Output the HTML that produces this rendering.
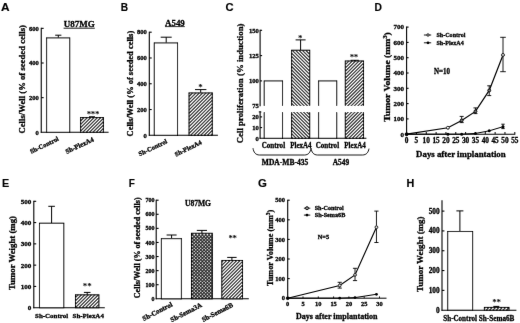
<!DOCTYPE html>
<html><head><meta charset="utf-8"><title>Figure</title>
<style>
html,body{margin:0;padding:0;background:#fff;}
body{width:520px;height:323px;overflow:hidden;font-family:"Liberation Serif",serif;}
svg{display:block;}
.sf{font-family:"Liberation Serif",serif;fill:#000;stroke:#000;stroke-width:0.3px;}
.ss{font-family:"Liberation Sans",sans-serif;fill:#000;stroke:#000;stroke-width:0.15px;}
</style></head>
<body>
<svg width="520" height="323" viewBox="0 0 520 323">
<rect width="520" height="323" fill="#fff"/>
<g filter="url(#soft)">
<defs>
<filter id="soft" x="0" y="0" width="520" height="323" filterUnits="userSpaceOnUse"><feConvolveMatrix order="3" kernelMatrix="0.0028 0.0470 0.0028 0.0470 0.8008 0.0470 0.0028 0.0470 0.0028" divisor="1" edgeMode="duplicate" preserveAlpha="false"/></filter>
<pattern id="hF" patternUnits="userSpaceOnUse" width="2.33" height="2.33" patternTransform="rotate(-45)">
<rect width="2.33" height="2.33" fill="#fff"/><line x1="0" y1="1.165" x2="2.33" y2="1.165" stroke="#000" stroke-width="0.85"/></pattern>
<pattern id="hB" patternUnits="userSpaceOnUse" width="2.33" height="2.33" patternTransform="rotate(45)">
<rect width="2.33" height="2.33" fill="#fff"/><line x1="0" y1="1.165" x2="2.33" y2="1.165" stroke="#000" stroke-width="0.85"/></pattern>
<pattern id="hX" patternUnits="userSpaceOnUse" width="2.3" height="2.3" patternTransform="rotate(45)">
<rect width="2.3" height="2.3" fill="#fff"/><line x1="0" y1="1.15" x2="2.3" y2="1.15" stroke="#000" stroke-width="0.8"/><line x1="1.15" y1="0" x2="1.15" y2="2.3" stroke="#000" stroke-width="0.8"/></pattern>
</defs>
<text class="ss" font-size="10.8" font-weight="bold" transform="translate(1.10 10.80) scale(1.1 1)" x="0" y="0">A</text>
<text class="sf" x="79.20" y="26.80" font-size="9" text-anchor="middle" font-weight="bold" textLength="31.00" lengthAdjust="spacingAndGlyphs" >U87MG</text>
<line x1="63.60" y1="28.20" x2="94.80" y2="28.20" stroke="#000" stroke-width="0.9" />
<line x1="41.25" y1="27.85" x2="41.25" y2="132.80" stroke="#000" stroke-width="1.1" />
<line x1="41.25" y1="28.35" x2="43.65" y2="28.35" stroke="#000" stroke-width="1.1" />
<text class="sf" x="38.85" y="30.59" font-size="6.6" text-anchor="end" font-weight="bold" >600</text>
<line x1="41.25" y1="63.00" x2="43.65" y2="63.00" stroke="#000" stroke-width="1.1" />
<text class="sf" x="38.85" y="65.24" font-size="6.6" text-anchor="end" font-weight="bold" >400</text>
<line x1="41.25" y1="97.65" x2="43.65" y2="97.65" stroke="#000" stroke-width="1.1" />
<text class="sf" x="38.85" y="99.89" font-size="6.6" text-anchor="end" font-weight="bold" >200</text>
<text class="sf" x="38.85" y="134.54" font-size="6.6" text-anchor="end" font-weight="bold" >0</text>
<line x1="40.75" y1="132.30" x2="108.60" y2="132.30" stroke="#000" stroke-width="1.1" />
<line x1="58.30" y1="37.88" x2="58.30" y2="35.20" stroke="#000" stroke-width="1.0" />
<line x1="55.20" y1="35.20" x2="61.40" y2="35.20" stroke="#000" stroke-width="1.0" />
<rect x="46.60" y="37.88" width="23.10" height="94.42" fill="#fff" stroke="none"/>
<rect x="46.60" y="37.88" width="23.10" height="94.42" fill="none" stroke="#000" stroke-width="1.05"/>
<line x1="92.00" y1="117.57" x2="92.00" y2="116.77" stroke="#000" stroke-width="1.0" />
<line x1="89.00" y1="116.77" x2="95.00" y2="116.77" stroke="#000" stroke-width="1.0" />
<rect x="80.60" y="117.57" width="22.80" height="14.73" fill="#fff" stroke="none"/>
<clipPath id="c1"><rect x="80.60" y="117.57" width="22.80" height="14.73"/></clipPath>
<path clip-path="url(#c1)" d="M79.60 111.92L104.40 87.12M79.60 115.28L104.40 90.48M79.60 118.64L104.40 93.84M79.60 122.00L104.40 97.20M79.60 125.36L104.40 100.56M79.60 128.72L104.40 103.92M79.60 132.08L104.40 107.28M79.60 135.44L104.40 110.64M79.60 138.80L104.40 114.00M79.60 142.16L104.40 117.36M79.60 145.52L104.40 120.72M79.60 148.88L104.40 124.08M79.60 152.24L104.40 127.44M79.60 155.60L104.40 130.80M79.60 158.96L104.40 134.16" fill="none" stroke="#000" stroke-width="1.1"/>
<rect x="80.60" y="117.57" width="22.80" height="14.73" fill="none" stroke="#000" stroke-width="1.05"/>
<text class="sf" x="89.05" y="116.85" font-size="9.0" text-anchor="middle" font-weight="bold" style="stroke-width:0">*</text>
<text class="sf" x="93.10" y="116.85" font-size="9.0" text-anchor="middle" font-weight="bold" style="stroke-width:0">*</text>
<text class="sf" x="97.15" y="116.85" font-size="9.0" text-anchor="middle" font-weight="bold" style="stroke-width:0">*</text>
<text class="sf" font-size="8.6" font-weight="bold" text-anchor="middle" transform="translate(22.00 79.30) rotate(-90)" x="0" y="2.84" textLength="108.50" lengthAdjust="spacingAndGlyphs">Cells/Well (% of seeded cells)</text>
<text class="sf" x="59.20" y="140.30" font-size="6.5" text-anchor="end" font-weight="bold" transform="rotate(-26 59.20 140.30)" >Sh-Control</text>
<text class="sf" x="94.40" y="141.00" font-size="6.8" text-anchor="end" font-weight="bold" transform="rotate(-25 94.40 141.00)" >Sh-PlexA4</text>
<text class="ss" font-size="10.8" font-weight="bold" transform="translate(120.80 10.80) scale(0.94 1)" x="0" y="0">B</text>
<text class="sf" x="174.90" y="25.60" font-size="8.6" text-anchor="middle" font-weight="bold" textLength="19.80" lengthAdjust="spacingAndGlyphs" >A549</text>
<line x1="165.00" y1="26.60" x2="184.80" y2="26.60" stroke="#000" stroke-width="0.8" />
<line x1="149.30" y1="31.70" x2="149.30" y2="135.80" stroke="#000" stroke-width="1.1" />
<line x1="149.30" y1="32.20" x2="151.70" y2="32.20" stroke="#000" stroke-width="1.1" />
<text class="sf" x="146.90" y="34.44" font-size="6.6" text-anchor="end" font-weight="bold" >800</text>
<line x1="149.30" y1="57.98" x2="151.70" y2="57.98" stroke="#000" stroke-width="1.1" />
<text class="sf" x="146.90" y="60.22" font-size="6.6" text-anchor="end" font-weight="bold" >600</text>
<line x1="149.30" y1="83.75" x2="151.70" y2="83.75" stroke="#000" stroke-width="1.1" />
<text class="sf" x="146.90" y="85.99" font-size="6.6" text-anchor="end" font-weight="bold" >400</text>
<line x1="149.30" y1="109.53" x2="151.70" y2="109.53" stroke="#000" stroke-width="1.1" />
<text class="sf" x="146.90" y="111.77" font-size="6.6" text-anchor="end" font-weight="bold" >200</text>
<text class="sf" x="146.90" y="137.54" font-size="6.6" text-anchor="end" font-weight="bold" >0</text>
<line x1="148.80" y1="135.30" x2="217.90" y2="135.30" stroke="#000" stroke-width="1.1" />
<line x1="166.20" y1="42.90" x2="166.20" y2="37.20" stroke="#000" stroke-width="1.0" />
<line x1="160.70" y1="37.20" x2="171.70" y2="37.20" stroke="#000" stroke-width="1.0" />
<rect x="154.30" y="42.90" width="23.20" height="92.40" fill="#fff" stroke="none"/>
<rect x="154.30" y="42.90" width="23.20" height="92.40" fill="none" stroke="#000" stroke-width="1.05"/>
<line x1="200.70" y1="92.90" x2="200.70" y2="89.60" stroke="#000" stroke-width="1.0" />
<line x1="195.00" y1="89.60" x2="206.40" y2="89.60" stroke="#000" stroke-width="1.0" />
<rect x="189.00" y="92.90" width="23.30" height="42.40" fill="#fff" stroke="none"/>
<clipPath id="c2"><rect x="189.00" y="92.90" width="23.30" height="42.40"/></clipPath>
<path clip-path="url(#c2)" d="M188.00 87.52L213.30 62.22M188.00 90.88L213.30 65.58M188.00 94.24L213.30 68.94M188.00 97.60L213.30 72.30M188.00 100.96L213.30 75.66M188.00 104.32L213.30 79.02M188.00 107.68L213.30 82.38M188.00 111.04L213.30 85.74M188.00 114.40L213.30 89.10M188.00 117.76L213.30 92.46M188.00 121.12L213.30 95.82M188.00 124.48L213.30 99.18M188.00 127.84L213.30 102.54M188.00 131.20L213.30 105.90M188.00 134.56L213.30 109.26M188.00 137.92L213.30 112.62M188.00 141.28L213.30 115.98M188.00 144.64L213.30 119.34M188.00 148.00L213.30 122.70M188.00 151.36L213.30 126.06M188.00 154.72L213.30 129.42M188.00 158.08L213.30 132.78M188.00 161.44L213.30 136.14" fill="none" stroke="#000" stroke-width="1.1"/>
<rect x="189.00" y="92.90" width="23.30" height="42.40" fill="none" stroke="#000" stroke-width="1.05"/>
<text class="sf" x="200.50" y="89.95" font-size="9.0" text-anchor="middle" font-weight="bold" style="stroke-width:0">*</text>
<text class="sf" font-size="8.5" font-weight="bold" text-anchor="middle" transform="translate(130.00 83.60) rotate(-90)" x="0" y="2.81" textLength="105.60" lengthAdjust="spacingAndGlyphs">Cells/Well (% of seeded cells)</text>
<text class="sf" x="167.70" y="142.80" font-size="6.5" text-anchor="end" font-weight="bold" transform="rotate(-26 167.70 142.80)" >Sh-Control</text>
<text class="sf" x="202.20" y="143.80" font-size="6.5" text-anchor="end" font-weight="bold" transform="rotate(-26 202.20 143.80)" >Sh-PlexA4</text>
<text class="ss" font-size="10.8" font-weight="bold" transform="translate(225.40 10.90) scale(1.04 1)" x="0" y="0">C</text>
<line x1="260.10" y1="29.80" x2="260.10" y2="106.30" stroke="#000" stroke-width="1.1" />
<line x1="260.10" y1="30.30" x2="262.10" y2="30.30" stroke="#000" stroke-width="1.1" />
<text class="sf" x="258.90" y="32.54" font-size="6.6" text-anchor="end" font-weight="bold" >150</text>
<line x1="260.10" y1="55.60" x2="262.10" y2="55.60" stroke="#000" stroke-width="1.1" />
<text class="sf" x="258.90" y="57.84" font-size="6.6" text-anchor="end" font-weight="bold" >125</text>
<line x1="260.10" y1="80.90" x2="262.10" y2="80.90" stroke="#000" stroke-width="1.1" />
<text class="sf" x="258.90" y="83.14" font-size="6.6" text-anchor="end" font-weight="bold" >100</text>
<text class="sf" x="258.90" y="108.24" font-size="6.6" text-anchor="end" font-weight="bold" >75</text>
<line x1="260.10" y1="111.60" x2="260.10" y2="138.80" stroke="#000" stroke-width="1.1" />
<line x1="260.10" y1="116.90" x2="262.10" y2="116.90" stroke="#000" stroke-width="1.1" />
<text class="sf" x="258.90" y="119.14" font-size="6.6" text-anchor="end" font-weight="bold" >20</text>
<line x1="260.10" y1="127.60" x2="262.10" y2="127.60" stroke="#000" stroke-width="1.1" />
<text class="sf" x="258.90" y="129.84" font-size="6.6" text-anchor="end" font-weight="bold" >10</text>
<text class="sf" x="258.90" y="140.54" font-size="6.6" text-anchor="end" font-weight="bold" >0</text>
<line x1="258.80" y1="111.90" x2="261.40" y2="111.90" stroke="#000" stroke-width="1.0" />
<line x1="259.60" y1="138.30" x2="366.40" y2="138.30" stroke="#000" stroke-width="1.1" />
<line x1="300.60" y1="50.24" x2="300.60" y2="39.90" stroke="#000" stroke-width="1.0" />
<line x1="295.60" y1="39.90" x2="305.60" y2="39.90" stroke="#000" stroke-width="1.0" />
<line x1="354.70" y1="60.96" x2="354.70" y2="60.30" stroke="#000" stroke-width="1.0" />
<line x1="350.60" y1="60.30" x2="358.80" y2="60.30" stroke="#000" stroke-width="1.0" />
<rect x="264.20" y="80.90" width="18.30" height="57.40" fill="#fff" stroke="none"/>
<rect x="264.20" y="80.90" width="18.30" height="57.40" fill="none" stroke="#000" stroke-width="1.05"/>
<rect x="291.60" y="50.24" width="18.10" height="88.06" fill="#fff" stroke="none"/>
<clipPath id="c3"><rect x="291.60" y="50.24" width="18.10" height="88.06"/></clipPath>
<path clip-path="url(#c3)" d="M290.60 142.76L310.70 162.86M290.60 139.40L310.70 159.50M290.60 136.04L310.70 156.14M290.60 132.68L310.70 152.78M290.60 129.32L310.70 149.42M290.60 125.96L310.70 146.06M290.60 122.60L310.70 142.70M290.60 119.24L310.70 139.34M290.60 115.88L310.70 135.98M290.60 112.52L310.70 132.62M290.60 109.16L310.70 129.26M290.60 105.80L310.70 125.90M290.60 102.44L310.70 122.54M290.60 99.08L310.70 119.18M290.60 95.72L310.70 115.82M290.60 92.36L310.70 112.46M290.60 89.00L310.70 109.10M290.60 85.64L310.70 105.74M290.60 82.28L310.70 102.38M290.60 78.92L310.70 99.02M290.60 75.56L310.70 95.66M290.60 72.20L310.70 92.30M290.60 68.84L310.70 88.94M290.60 65.48L310.70 85.58M290.60 62.12L310.70 82.22M290.60 58.76L310.70 78.86M290.60 55.40L310.70 75.50M290.60 52.04L310.70 72.14M290.60 48.68L310.70 68.78M290.60 45.32L310.70 65.42M290.60 41.96L310.70 62.06M290.60 38.60L310.70 58.70M290.60 35.24L310.70 55.34M290.60 31.88L310.70 51.98M290.60 28.52L310.70 48.62" fill="none" stroke="#000" stroke-width="1.1"/>
<rect x="291.60" y="50.24" width="18.10" height="88.06" fill="none" stroke="#000" stroke-width="1.05"/>
<rect x="318.60" y="80.90" width="18.10" height="57.40" fill="#fff" stroke="none"/>
<rect x="318.60" y="80.90" width="18.10" height="57.40" fill="none" stroke="#000" stroke-width="1.05"/>
<rect x="345.30" y="60.96" width="18.20" height="77.34" fill="#fff" stroke="none"/>
<clipPath id="c4"><rect x="345.30" y="60.96" width="18.20" height="77.34"/></clipPath>
<path clip-path="url(#c4)" d="M344.30 55.54L364.50 35.34M344.30 58.90L364.50 38.70M344.30 62.26L364.50 42.06M344.30 65.62L364.50 45.42M344.30 68.98L364.50 48.78M344.30 72.34L364.50 52.14M344.30 75.70L364.50 55.50M344.30 79.06L364.50 58.86M344.30 82.42L364.50 62.22M344.30 85.78L364.50 65.58M344.30 89.14L364.50 68.94M344.30 92.50L364.50 72.30M344.30 95.86L364.50 75.66M344.30 99.22L364.50 79.02M344.30 102.58L364.50 82.38M344.30 105.94L364.50 85.74M344.30 109.30L364.50 89.10M344.30 112.66L364.50 92.46M344.30 116.02L364.50 95.82M344.30 119.38L364.50 99.18M344.30 122.74L364.50 102.54M344.30 126.10L364.50 105.90M344.30 129.46L364.50 109.26M344.30 132.82L364.50 112.62M344.30 136.18L364.50 115.98M344.30 139.54L364.50 119.34M344.30 142.90L364.50 122.70M344.30 146.26L364.50 126.06M344.30 149.62L364.50 129.42M344.30 152.98L364.50 132.78M344.30 156.34L364.50 136.14M344.30 159.70L364.50 139.50" fill="none" stroke="#000" stroke-width="1.1"/>
<rect x="345.30" y="60.96" width="18.20" height="77.34" fill="none" stroke="#000" stroke-width="1.05"/>
<rect x="262.4" y="105.9" width="104" height="6.1" fill="#fff"/>
<text class="sf" x="300.30" y="40.65" font-size="9.0" text-anchor="middle" font-weight="bold" style="stroke-width:0">*</text>
<text class="sf" x="352.10" y="59.55" font-size="9.0" text-anchor="middle" font-weight="bold" style="stroke-width:0">*</text>
<text class="sf" x="356.10" y="59.55" font-size="9.0" text-anchor="middle" font-weight="bold" style="stroke-width:0">*</text>
<text class="sf" font-size="8.9" font-weight="bold" text-anchor="middle" transform="translate(240.50 83.40) rotate(-90)" x="0" y="2.94" textLength="119.80" lengthAdjust="spacingAndGlyphs">Cell proliferation (% induction)</text>
<text class="sf" x="273.40" y="147.60" font-size="7.7" text-anchor="middle" font-weight="bold" textLength="23.40" lengthAdjust="spacingAndGlyphs" >Control</text>
<text class="sf" x="300.90" y="147.60" font-size="7.7" text-anchor="middle" font-weight="bold" textLength="21.40" lengthAdjust="spacingAndGlyphs" >PlexA4</text>
<text class="sf" x="327.40" y="147.60" font-size="7.7" text-anchor="middle" font-weight="bold" textLength="23.40" lengthAdjust="spacingAndGlyphs" >Control</text>
<text class="sf" x="355.00" y="147.60" font-size="7.7" text-anchor="middle" font-weight="bold" textLength="21.40" lengthAdjust="spacingAndGlyphs" >PlexA4</text>
<path d="M253 148.2 C253.6 152.2 255.5 155 259.5 155 L304.5 155 C308.5 155 310.4 152.2 311 148.2 C311.6 152.2 313.5 155 317.5 155 L362.5 155 C366.5 155 368.4 152.2 369 148.6" fill="none" stroke="#000" stroke-width="0.9"/>
<text class="sf" x="285.00" y="164.50" font-size="7.2" text-anchor="middle" font-weight="bold" textLength="46.40" lengthAdjust="spacingAndGlyphs" >MDA-MB-435</text>
<text class="sf" x="341.00" y="164.50" font-size="7.2" text-anchor="middle" font-weight="bold" textLength="16.40" lengthAdjust="spacingAndGlyphs" >A549</text>
<text class="ss" font-size="10.8" font-weight="bold" transform="translate(374.60 10.90) scale(0.95 1)" x="0" y="0">D</text>
<line x1="406.60" y1="26.60" x2="406.60" y2="134.70" stroke="#000" stroke-width="1.1" />
<text class="sf" x="404.00" y="136.58" font-size="7.0" text-anchor="end" font-weight="bold" >0</text>
<line x1="406.60" y1="118.90" x2="408.60" y2="118.90" stroke="#000" stroke-width="1.1" />
<text class="sf" x="404.00" y="121.28" font-size="7.0" text-anchor="end" font-weight="bold" >100</text>
<line x1="406.60" y1="103.60" x2="408.60" y2="103.60" stroke="#000" stroke-width="1.1" />
<text class="sf" x="404.00" y="105.98" font-size="7.0" text-anchor="end" font-weight="bold" >200</text>
<line x1="406.60" y1="88.30" x2="408.60" y2="88.30" stroke="#000" stroke-width="1.1" />
<text class="sf" x="404.00" y="90.68" font-size="7.0" text-anchor="end" font-weight="bold" >300</text>
<line x1="406.60" y1="73.00" x2="408.60" y2="73.00" stroke="#000" stroke-width="1.1" />
<text class="sf" x="404.00" y="75.38" font-size="7.0" text-anchor="end" font-weight="bold" >400</text>
<line x1="406.60" y1="57.70" x2="408.60" y2="57.70" stroke="#000" stroke-width="1.1" />
<text class="sf" x="404.00" y="60.08" font-size="7.0" text-anchor="end" font-weight="bold" >500</text>
<line x1="406.60" y1="42.40" x2="408.60" y2="42.40" stroke="#000" stroke-width="1.1" />
<text class="sf" x="404.00" y="44.78" font-size="7.0" text-anchor="end" font-weight="bold" >600</text>
<line x1="406.60" y1="27.10" x2="408.60" y2="27.10" stroke="#000" stroke-width="1.1" />
<text class="sf" x="404.00" y="29.48" font-size="7.0" text-anchor="end" font-weight="bold" >700</text>
<line x1="406.10" y1="134.20" x2="515.30" y2="134.20" stroke="#000" stroke-width="1.1" />
<text class="sf" x="406.60" y="142.70" font-size="7.3" text-anchor="middle" font-weight="bold" >0</text>
<line x1="416.44" y1="134.20" x2="416.44" y2="132.00" stroke="#000" stroke-width="1.0" />
<text class="sf" x="416.44" y="142.70" font-size="7.3" text-anchor="middle" font-weight="bold" >5</text>
<line x1="426.27" y1="134.20" x2="426.27" y2="132.00" stroke="#000" stroke-width="1.0" />
<text class="sf" x="426.27" y="142.70" font-size="7.3" text-anchor="middle" font-weight="bold" >10</text>
<line x1="436.11" y1="134.20" x2="436.11" y2="132.00" stroke="#000" stroke-width="1.0" />
<text class="sf" x="436.11" y="142.70" font-size="7.3" text-anchor="middle" font-weight="bold" >15</text>
<line x1="445.95" y1="134.20" x2="445.95" y2="132.00" stroke="#000" stroke-width="1.0" />
<text class="sf" x="445.95" y="142.70" font-size="7.3" text-anchor="middle" font-weight="bold" >20</text>
<line x1="455.78" y1="134.20" x2="455.78" y2="132.00" stroke="#000" stroke-width="1.0" />
<text class="sf" x="455.78" y="142.70" font-size="7.3" text-anchor="middle" font-weight="bold" >25</text>
<line x1="465.62" y1="134.20" x2="465.62" y2="132.00" stroke="#000" stroke-width="1.0" />
<text class="sf" x="465.62" y="142.70" font-size="7.3" text-anchor="middle" font-weight="bold" >30</text>
<line x1="475.45" y1="134.20" x2="475.45" y2="132.00" stroke="#000" stroke-width="1.0" />
<text class="sf" x="475.45" y="142.70" font-size="7.3" text-anchor="middle" font-weight="bold" >35</text>
<line x1="485.29" y1="134.20" x2="485.29" y2="132.00" stroke="#000" stroke-width="1.0" />
<text class="sf" x="485.29" y="142.70" font-size="7.3" text-anchor="middle" font-weight="bold" >40</text>
<line x1="495.13" y1="134.20" x2="495.13" y2="132.00" stroke="#000" stroke-width="1.0" />
<text class="sf" x="495.13" y="142.70" font-size="7.3" text-anchor="middle" font-weight="bold" >45</text>
<line x1="504.96" y1="134.20" x2="504.96" y2="132.00" stroke="#000" stroke-width="1.0" />
<text class="sf" x="504.96" y="142.70" font-size="7.3" text-anchor="middle" font-weight="bold" >50</text>
<line x1="514.80" y1="134.20" x2="514.80" y2="132.00" stroke="#000" stroke-width="1.0" />
<text class="sf" x="514.80" y="142.70" font-size="7.3" text-anchor="middle" font-weight="bold" >55</text>
<text class="sf" x="460.90" y="157.00" font-size="8.7" text-anchor="middle" font-weight="bold" textLength="89.60" lengthAdjust="spacingAndGlyphs" >Days after implantation</text>
<text class="sf" font-size="8.7" font-weight="bold" text-anchor="middle" transform="translate(387.60 77.00) rotate(-90)" x="0" y="2.87" textLength="89.50" lengthAdjust="spacingAndGlyphs">Tumor Volume (mm<tspan dy="-3.0" font-size="5.6">3</tspan><tspan dy="3.0">)</tspan></text>
<line x1="423.90" y1="35.00" x2="431.20" y2="35.00" stroke="#000" stroke-width="0.9" />
<circle cx="428.0" cy="35.0" r="1.2" fill="#fff" stroke="#000" stroke-width="0.95"/>
<text class="sf" x="436.40" y="37.20" font-size="6.6" text-anchor="start" font-weight="bold" textLength="29.00" lengthAdjust="spacingAndGlyphs" >Sh-Control</text>
<line x1="423.90" y1="42.80" x2="431.20" y2="42.80" stroke="#000" stroke-width="0.9" />
<circle cx="428.0" cy="42.8" r="1.4" fill="#000"/>
<text class="sf" x="436.40" y="45.00" font-size="6.6" text-anchor="start" font-weight="bold" textLength="27.40" lengthAdjust="spacingAndGlyphs" >Sh-PlexA4</text>
<text class="sf" x="441.90" y="74.00" font-size="7.3" text-anchor="middle" font-weight="bold" textLength="16.00" lengthAdjust="spacingAndGlyphs" >N=10</text>
<polyline fill="none" stroke="#000" stroke-width="1.2" points="406.60,134.20 447.91,127.77 461.68,120.43 475.45,111.40 489.23,90.44 503.00,54.95"/>
<line x1="461.68" y1="116.40" x2="461.68" y2="122.60" stroke="#000" stroke-width="0.9" />
<line x1="459.68" y1="116.40" x2="463.68" y2="116.40" stroke="#000" stroke-width="0.9" />
<line x1="459.68" y1="122.60" x2="463.68" y2="122.60" stroke="#000" stroke-width="0.9" />
<line x1="475.45" y1="107.90" x2="475.45" y2="113.60" stroke="#000" stroke-width="0.9" />
<line x1="473.45" y1="107.90" x2="477.45" y2="107.90" stroke="#000" stroke-width="0.9" />
<line x1="473.45" y1="113.60" x2="477.45" y2="113.60" stroke="#000" stroke-width="0.9" />
<line x1="489.23" y1="85.80" x2="489.23" y2="95.60" stroke="#000" stroke-width="0.9" />
<line x1="487.23" y1="85.80" x2="491.23" y2="85.80" stroke="#000" stroke-width="0.9" />
<line x1="487.23" y1="95.60" x2="491.23" y2="95.60" stroke="#000" stroke-width="0.9" />
<line x1="503.00" y1="37.30" x2="503.00" y2="71.70" stroke="#000" stroke-width="0.9" />
<line x1="500.20" y1="37.30" x2="505.80" y2="37.30" stroke="#000" stroke-width="0.9" />
<line x1="500.20" y1="71.70" x2="505.80" y2="71.70" stroke="#000" stroke-width="0.9" />
<circle cx="406.60" cy="134.20" r="1.45" fill="#777" stroke="#000" stroke-width="1.0"/>
<circle cx="447.91" cy="127.77" r="1.45" fill="#fff" stroke="#000" stroke-width="1.0"/>
<circle cx="461.68" cy="120.43" r="1.45" fill="#777" stroke="#000" stroke-width="1.0"/>
<circle cx="475.45" cy="111.40" r="1.45" fill="#777" stroke="#000" stroke-width="1.0"/>
<circle cx="489.23" cy="90.44" r="1.45" fill="#777" stroke="#000" stroke-width="1.0"/>
<circle cx="503.00" cy="54.95" r="1.45" fill="#fff" stroke="#000" stroke-width="1.0"/>
<polyline fill="none" stroke="#000" stroke-width="1.0" points="406.60,134.20 447.91,134.20 461.68,134.20 475.45,133.44 489.23,130.83 503.00,126.70"/>
<line x1="503.00" y1="124.20" x2="503.00" y2="128.60" stroke="#000" stroke-width="0.9" />
<line x1="501.30" y1="124.20" x2="504.70" y2="124.20" stroke="#000" stroke-width="0.9" />
<line x1="501.30" y1="128.60" x2="504.70" y2="128.60" stroke="#000" stroke-width="0.9" />
<circle cx="406.60" cy="134.20" r="1.5" fill="#000"/>
<circle cx="447.91" cy="134.20" r="1.5" fill="#000"/>
<circle cx="461.68" cy="134.20" r="1.5" fill="#000"/>
<circle cx="475.45" cy="133.44" r="1.5" fill="#000"/>
<circle cx="489.23" cy="130.83" r="1.5" fill="#000"/>
<circle cx="503.00" cy="126.70" r="1.5" fill="#000"/>
<text class="ss" font-size="11.4" font-weight="bold" transform="translate(2.00 186.80) scale(0.95 1)" x="0" y="0">E</text>
<line x1="33.80" y1="200.80" x2="33.80" y2="308.20" stroke="#000" stroke-width="1.1" />
<text class="sf" x="31.40" y="310.11" font-size="7.1" text-anchor="end" font-weight="bold" >0</text>
<line x1="33.80" y1="286.42" x2="36.20" y2="286.42" stroke="#000" stroke-width="1.1" />
<text class="sf" x="31.40" y="288.83" font-size="7.1" text-anchor="end" font-weight="bold" >100</text>
<line x1="33.80" y1="265.14" x2="36.20" y2="265.14" stroke="#000" stroke-width="1.1" />
<text class="sf" x="31.40" y="267.55" font-size="7.1" text-anchor="end" font-weight="bold" >200</text>
<line x1="33.80" y1="243.86" x2="36.20" y2="243.86" stroke="#000" stroke-width="1.1" />
<text class="sf" x="31.40" y="246.27" font-size="7.1" text-anchor="end" font-weight="bold" >300</text>
<line x1="33.80" y1="222.58" x2="36.20" y2="222.58" stroke="#000" stroke-width="1.1" />
<text class="sf" x="31.40" y="224.99" font-size="7.1" text-anchor="end" font-weight="bold" >400</text>
<line x1="33.80" y1="201.30" x2="36.20" y2="201.30" stroke="#000" stroke-width="1.1" />
<text class="sf" x="31.40" y="203.71" font-size="7.1" text-anchor="end" font-weight="bold" >500</text>
<line x1="33.30" y1="307.70" x2="104.80" y2="307.70" stroke="#000" stroke-width="1.1" />
<line x1="51.60" y1="223.22" x2="51.60" y2="206.30" stroke="#000" stroke-width="1.0" />
<line x1="48.30" y1="206.30" x2="54.90" y2="206.30" stroke="#000" stroke-width="1.0" />
<rect x="39.50" y="223.22" width="24.30" height="84.48" fill="#fff" stroke="none"/>
<rect x="39.50" y="223.22" width="24.30" height="84.48" fill="none" stroke="#000" stroke-width="1.05"/>
<line x1="87.20" y1="294.83" x2="87.20" y2="292.40" stroke="#000" stroke-width="1.0" />
<line x1="83.90" y1="292.40" x2="90.50" y2="292.40" stroke="#000" stroke-width="1.0" />
<rect x="75.50" y="294.83" width="23.40" height="12.87" fill="#fff" stroke="none"/>
<clipPath id="c5"><rect x="75.50" y="294.83" width="23.40" height="12.87"/></clipPath>
<path clip-path="url(#c5)" d="M74.50 291.74L99.90 266.34M74.50 295.10L99.90 269.70M74.50 298.46L99.90 273.06M74.50 301.82L99.90 276.42M74.50 305.18L99.90 279.78M74.50 308.54L99.90 283.14M74.50 311.90L99.90 286.50M74.50 315.26L99.90 289.86M74.50 318.62L99.90 293.22M74.50 321.98L99.90 296.58M74.50 325.34L99.90 299.94M74.50 328.70L99.90 303.30M74.50 332.06L99.90 306.66M74.50 335.42L99.90 310.02" fill="none" stroke="#000" stroke-width="1.1"/>
<rect x="75.50" y="294.83" width="23.40" height="12.87" fill="none" stroke="#000" stroke-width="1.05"/>
<text class="sf" x="85.00" y="289.45" font-size="9.0" text-anchor="middle" font-weight="bold" style="stroke-width:0">*</text>
<text class="sf" x="89.40" y="289.45" font-size="9.0" text-anchor="middle" font-weight="bold" style="stroke-width:0">*</text>
<text class="sf" font-size="9.0" font-weight="bold" text-anchor="middle" transform="translate(12.10 253.00) rotate(-90)" x="0" y="2.97" textLength="74.00" lengthAdjust="spacingAndGlyphs">Tumor Weight (mg)</text>
<text class="sf" x="51.60" y="318.40" font-size="7.0" text-anchor="middle" font-weight="bold" textLength="33.00" lengthAdjust="spacingAndGlyphs" >Sh-Control</text>
<text class="sf" x="88.20" y="318.40" font-size="7.0" text-anchor="middle" font-weight="bold" textLength="31.40" lengthAdjust="spacingAndGlyphs" >Sh-PlexA4</text>
<text class="ss" font-size="11.4" font-weight="bold" transform="translate(128.80 186.80) scale(0.88 1)" x="0" y="0">F</text>
<line x1="156.20" y1="199.70" x2="156.20" y2="299.30" stroke="#000" stroke-width="1.1" />
<text class="sf" x="154.50" y="300.84" font-size="6.0" text-anchor="end" font-weight="bold" >0</text>
<line x1="156.20" y1="284.71" x2="158.60" y2="284.71" stroke="#000" stroke-width="1.1" />
<text class="sf" x="154.50" y="286.75" font-size="6.0" text-anchor="end" font-weight="bold" >100</text>
<line x1="156.20" y1="270.63" x2="158.60" y2="270.63" stroke="#000" stroke-width="1.1" />
<text class="sf" x="154.50" y="272.67" font-size="6.0" text-anchor="end" font-weight="bold" >200</text>
<line x1="156.20" y1="256.54" x2="158.60" y2="256.54" stroke="#000" stroke-width="1.1" />
<text class="sf" x="154.50" y="258.58" font-size="6.0" text-anchor="end" font-weight="bold" >300</text>
<line x1="156.20" y1="242.46" x2="158.60" y2="242.46" stroke="#000" stroke-width="1.1" />
<text class="sf" x="154.50" y="244.50" font-size="6.0" text-anchor="end" font-weight="bold" >400</text>
<line x1="156.20" y1="228.37" x2="158.60" y2="228.37" stroke="#000" stroke-width="1.1" />
<text class="sf" x="154.50" y="230.41" font-size="6.0" text-anchor="end" font-weight="bold" >500</text>
<line x1="156.20" y1="214.29" x2="158.60" y2="214.29" stroke="#000" stroke-width="1.1" />
<text class="sf" x="154.50" y="216.33" font-size="6.0" text-anchor="end" font-weight="bold" >600</text>
<line x1="156.20" y1="200.20" x2="158.60" y2="200.20" stroke="#000" stroke-width="1.1" />
<text class="sf" x="154.50" y="202.24" font-size="6.0" text-anchor="end" font-weight="bold" >700</text>
<line x1="155.70" y1="298.80" x2="248.80" y2="298.80" stroke="#000" stroke-width="1.1" />
<text class="sf" x="198.00" y="205.50" font-size="8.0" text-anchor="middle" font-weight="bold" textLength="26.00" lengthAdjust="spacingAndGlyphs" >U87MG</text>
<line x1="171.60" y1="238.65" x2="171.60" y2="235.00" stroke="#000" stroke-width="1.0" />
<line x1="166.60" y1="235.00" x2="176.60" y2="235.00" stroke="#000" stroke-width="1.0" />
<rect x="161.40" y="238.65" width="20.00" height="60.15" fill="#fff" stroke="none"/>
<rect x="161.40" y="238.65" width="20.00" height="60.15" fill="none" stroke="#000" stroke-width="1.05"/>
<line x1="201.90" y1="233.30" x2="201.90" y2="230.40" stroke="#000" stroke-width="1.0" />
<line x1="196.80" y1="230.40" x2="207.00" y2="230.40" stroke="#000" stroke-width="1.0" />
<rect x="191.50" y="233.30" width="20.80" height="65.50" fill="#fff" stroke="none"/>
<clipPath id="c6"><rect x="191.50" y="233.30" width="20.80" height="65.50"/></clipPath>
<path clip-path="url(#c6)" d="M191.70 234.20h1.65v1.65h-1.65zM195.00 234.20h1.65v1.65h-1.65zM198.30 234.20h1.65v1.65h-1.65zM201.60 234.20h1.65v1.65h-1.65zM204.90 234.20h1.65v1.65h-1.65zM208.20 234.20h1.65v1.65h-1.65zM211.50 234.20h1.65v1.65h-1.65zM193.35 235.85h1.65v1.65h-1.65zM196.65 235.85h1.65v1.65h-1.65zM199.95 235.85h1.65v1.65h-1.65zM203.25 235.85h1.65v1.65h-1.65zM206.55 235.85h1.65v1.65h-1.65zM209.85 235.85h1.65v1.65h-1.65zM191.70 237.50h1.65v1.65h-1.65zM195.00 237.50h1.65v1.65h-1.65zM198.30 237.50h1.65v1.65h-1.65zM201.60 237.50h1.65v1.65h-1.65zM204.90 237.50h1.65v1.65h-1.65zM208.20 237.50h1.65v1.65h-1.65zM211.50 237.50h1.65v1.65h-1.65zM193.35 239.15h1.65v1.65h-1.65zM196.65 239.15h1.65v1.65h-1.65zM199.95 239.15h1.65v1.65h-1.65zM203.25 239.15h1.65v1.65h-1.65zM206.55 239.15h1.65v1.65h-1.65zM209.85 239.15h1.65v1.65h-1.65zM191.70 240.80h1.65v1.65h-1.65zM195.00 240.80h1.65v1.65h-1.65zM198.30 240.80h1.65v1.65h-1.65zM201.60 240.80h1.65v1.65h-1.65zM204.90 240.80h1.65v1.65h-1.65zM208.20 240.80h1.65v1.65h-1.65zM211.50 240.80h1.65v1.65h-1.65zM193.35 242.45h1.65v1.65h-1.65zM196.65 242.45h1.65v1.65h-1.65zM199.95 242.45h1.65v1.65h-1.65zM203.25 242.45h1.65v1.65h-1.65zM206.55 242.45h1.65v1.65h-1.65zM209.85 242.45h1.65v1.65h-1.65zM191.70 244.10h1.65v1.65h-1.65zM195.00 244.10h1.65v1.65h-1.65zM198.30 244.10h1.65v1.65h-1.65zM201.60 244.10h1.65v1.65h-1.65zM204.90 244.10h1.65v1.65h-1.65zM208.20 244.10h1.65v1.65h-1.65zM211.50 244.10h1.65v1.65h-1.65zM193.35 245.75h1.65v1.65h-1.65zM196.65 245.75h1.65v1.65h-1.65zM199.95 245.75h1.65v1.65h-1.65zM203.25 245.75h1.65v1.65h-1.65zM206.55 245.75h1.65v1.65h-1.65zM209.85 245.75h1.65v1.65h-1.65zM191.70 247.40h1.65v1.65h-1.65zM195.00 247.40h1.65v1.65h-1.65zM198.30 247.40h1.65v1.65h-1.65zM201.60 247.40h1.65v1.65h-1.65zM204.90 247.40h1.65v1.65h-1.65zM208.20 247.40h1.65v1.65h-1.65zM211.50 247.40h1.65v1.65h-1.65zM193.35 249.05h1.65v1.65h-1.65zM196.65 249.05h1.65v1.65h-1.65zM199.95 249.05h1.65v1.65h-1.65zM203.25 249.05h1.65v1.65h-1.65zM206.55 249.05h1.65v1.65h-1.65zM209.85 249.05h1.65v1.65h-1.65zM191.70 250.70h1.65v1.65h-1.65zM195.00 250.70h1.65v1.65h-1.65zM198.30 250.70h1.65v1.65h-1.65zM201.60 250.70h1.65v1.65h-1.65zM204.90 250.70h1.65v1.65h-1.65zM208.20 250.70h1.65v1.65h-1.65zM211.50 250.70h1.65v1.65h-1.65zM193.35 252.35h1.65v1.65h-1.65zM196.65 252.35h1.65v1.65h-1.65zM199.95 252.35h1.65v1.65h-1.65zM203.25 252.35h1.65v1.65h-1.65zM206.55 252.35h1.65v1.65h-1.65zM209.85 252.35h1.65v1.65h-1.65zM191.70 254.00h1.65v1.65h-1.65zM195.00 254.00h1.65v1.65h-1.65zM198.30 254.00h1.65v1.65h-1.65zM201.60 254.00h1.65v1.65h-1.65zM204.90 254.00h1.65v1.65h-1.65zM208.20 254.00h1.65v1.65h-1.65zM211.50 254.00h1.65v1.65h-1.65zM193.35 255.65h1.65v1.65h-1.65zM196.65 255.65h1.65v1.65h-1.65zM199.95 255.65h1.65v1.65h-1.65zM203.25 255.65h1.65v1.65h-1.65zM206.55 255.65h1.65v1.65h-1.65zM209.85 255.65h1.65v1.65h-1.65zM191.70 257.30h1.65v1.65h-1.65zM195.00 257.30h1.65v1.65h-1.65zM198.30 257.30h1.65v1.65h-1.65zM201.60 257.30h1.65v1.65h-1.65zM204.90 257.30h1.65v1.65h-1.65zM208.20 257.30h1.65v1.65h-1.65zM211.50 257.30h1.65v1.65h-1.65zM193.35 258.95h1.65v1.65h-1.65zM196.65 258.95h1.65v1.65h-1.65zM199.95 258.95h1.65v1.65h-1.65zM203.25 258.95h1.65v1.65h-1.65zM206.55 258.95h1.65v1.65h-1.65zM209.85 258.95h1.65v1.65h-1.65zM191.70 260.60h1.65v1.65h-1.65zM195.00 260.60h1.65v1.65h-1.65zM198.30 260.60h1.65v1.65h-1.65zM201.60 260.60h1.65v1.65h-1.65zM204.90 260.60h1.65v1.65h-1.65zM208.20 260.60h1.65v1.65h-1.65zM211.50 260.60h1.65v1.65h-1.65zM193.35 262.25h1.65v1.65h-1.65zM196.65 262.25h1.65v1.65h-1.65zM199.95 262.25h1.65v1.65h-1.65zM203.25 262.25h1.65v1.65h-1.65zM206.55 262.25h1.65v1.65h-1.65zM209.85 262.25h1.65v1.65h-1.65zM191.70 263.90h1.65v1.65h-1.65zM195.00 263.90h1.65v1.65h-1.65zM198.30 263.90h1.65v1.65h-1.65zM201.60 263.90h1.65v1.65h-1.65zM204.90 263.90h1.65v1.65h-1.65zM208.20 263.90h1.65v1.65h-1.65zM211.50 263.90h1.65v1.65h-1.65zM193.35 265.55h1.65v1.65h-1.65zM196.65 265.55h1.65v1.65h-1.65zM199.95 265.55h1.65v1.65h-1.65zM203.25 265.55h1.65v1.65h-1.65zM206.55 265.55h1.65v1.65h-1.65zM209.85 265.55h1.65v1.65h-1.65zM191.70 267.20h1.65v1.65h-1.65zM195.00 267.20h1.65v1.65h-1.65zM198.30 267.20h1.65v1.65h-1.65zM201.60 267.20h1.65v1.65h-1.65zM204.90 267.20h1.65v1.65h-1.65zM208.20 267.20h1.65v1.65h-1.65zM211.50 267.20h1.65v1.65h-1.65zM193.35 268.85h1.65v1.65h-1.65zM196.65 268.85h1.65v1.65h-1.65zM199.95 268.85h1.65v1.65h-1.65zM203.25 268.85h1.65v1.65h-1.65zM206.55 268.85h1.65v1.65h-1.65zM209.85 268.85h1.65v1.65h-1.65zM191.70 270.50h1.65v1.65h-1.65zM195.00 270.50h1.65v1.65h-1.65zM198.30 270.50h1.65v1.65h-1.65zM201.60 270.50h1.65v1.65h-1.65zM204.90 270.50h1.65v1.65h-1.65zM208.20 270.50h1.65v1.65h-1.65zM211.50 270.50h1.65v1.65h-1.65zM193.35 272.15h1.65v1.65h-1.65zM196.65 272.15h1.65v1.65h-1.65zM199.95 272.15h1.65v1.65h-1.65zM203.25 272.15h1.65v1.65h-1.65zM206.55 272.15h1.65v1.65h-1.65zM209.85 272.15h1.65v1.65h-1.65zM191.70 273.80h1.65v1.65h-1.65zM195.00 273.80h1.65v1.65h-1.65zM198.30 273.80h1.65v1.65h-1.65zM201.60 273.80h1.65v1.65h-1.65zM204.90 273.80h1.65v1.65h-1.65zM208.20 273.80h1.65v1.65h-1.65zM211.50 273.80h1.65v1.65h-1.65zM193.35 275.45h1.65v1.65h-1.65zM196.65 275.45h1.65v1.65h-1.65zM199.95 275.45h1.65v1.65h-1.65zM203.25 275.45h1.65v1.65h-1.65zM206.55 275.45h1.65v1.65h-1.65zM209.85 275.45h1.65v1.65h-1.65zM191.70 277.10h1.65v1.65h-1.65zM195.00 277.10h1.65v1.65h-1.65zM198.30 277.10h1.65v1.65h-1.65zM201.60 277.10h1.65v1.65h-1.65zM204.90 277.10h1.65v1.65h-1.65zM208.20 277.10h1.65v1.65h-1.65zM211.50 277.10h1.65v1.65h-1.65zM193.35 278.75h1.65v1.65h-1.65zM196.65 278.75h1.65v1.65h-1.65zM199.95 278.75h1.65v1.65h-1.65zM203.25 278.75h1.65v1.65h-1.65zM206.55 278.75h1.65v1.65h-1.65zM209.85 278.75h1.65v1.65h-1.65zM191.70 280.40h1.65v1.65h-1.65zM195.00 280.40h1.65v1.65h-1.65zM198.30 280.40h1.65v1.65h-1.65zM201.60 280.40h1.65v1.65h-1.65zM204.90 280.40h1.65v1.65h-1.65zM208.20 280.40h1.65v1.65h-1.65zM211.50 280.40h1.65v1.65h-1.65zM193.35 282.05h1.65v1.65h-1.65zM196.65 282.05h1.65v1.65h-1.65zM199.95 282.05h1.65v1.65h-1.65zM203.25 282.05h1.65v1.65h-1.65zM206.55 282.05h1.65v1.65h-1.65zM209.85 282.05h1.65v1.65h-1.65zM191.70 283.70h1.65v1.65h-1.65zM195.00 283.70h1.65v1.65h-1.65zM198.30 283.70h1.65v1.65h-1.65zM201.60 283.70h1.65v1.65h-1.65zM204.90 283.70h1.65v1.65h-1.65zM208.20 283.70h1.65v1.65h-1.65zM211.50 283.70h1.65v1.65h-1.65zM193.35 285.35h1.65v1.65h-1.65zM196.65 285.35h1.65v1.65h-1.65zM199.95 285.35h1.65v1.65h-1.65zM203.25 285.35h1.65v1.65h-1.65zM206.55 285.35h1.65v1.65h-1.65zM209.85 285.35h1.65v1.65h-1.65zM191.70 287.00h1.65v1.65h-1.65zM195.00 287.00h1.65v1.65h-1.65zM198.30 287.00h1.65v1.65h-1.65zM201.60 287.00h1.65v1.65h-1.65zM204.90 287.00h1.65v1.65h-1.65zM208.20 287.00h1.65v1.65h-1.65zM211.50 287.00h1.65v1.65h-1.65zM193.35 288.65h1.65v1.65h-1.65zM196.65 288.65h1.65v1.65h-1.65zM199.95 288.65h1.65v1.65h-1.65zM203.25 288.65h1.65v1.65h-1.65zM206.55 288.65h1.65v1.65h-1.65zM209.85 288.65h1.65v1.65h-1.65zM191.70 290.30h1.65v1.65h-1.65zM195.00 290.30h1.65v1.65h-1.65zM198.30 290.30h1.65v1.65h-1.65zM201.60 290.30h1.65v1.65h-1.65zM204.90 290.30h1.65v1.65h-1.65zM208.20 290.30h1.65v1.65h-1.65zM211.50 290.30h1.65v1.65h-1.65zM193.35 291.95h1.65v1.65h-1.65zM196.65 291.95h1.65v1.65h-1.65zM199.95 291.95h1.65v1.65h-1.65zM203.25 291.95h1.65v1.65h-1.65zM206.55 291.95h1.65v1.65h-1.65zM209.85 291.95h1.65v1.65h-1.65zM191.70 293.60h1.65v1.65h-1.65zM195.00 293.60h1.65v1.65h-1.65zM198.30 293.60h1.65v1.65h-1.65zM201.60 293.60h1.65v1.65h-1.65zM204.90 293.60h1.65v1.65h-1.65zM208.20 293.60h1.65v1.65h-1.65zM211.50 293.60h1.65v1.65h-1.65zM193.35 295.25h1.65v1.65h-1.65zM196.65 295.25h1.65v1.65h-1.65zM199.95 295.25h1.65v1.65h-1.65zM203.25 295.25h1.65v1.65h-1.65zM206.55 295.25h1.65v1.65h-1.65zM209.85 295.25h1.65v1.65h-1.65zM191.70 296.90h1.65v1.65h-1.65zM195.00 296.90h1.65v1.65h-1.65zM198.30 296.90h1.65v1.65h-1.65zM201.60 296.90h1.65v1.65h-1.65zM204.90 296.90h1.65v1.65h-1.65zM208.20 296.90h1.65v1.65h-1.65zM211.50 296.90h1.65v1.65h-1.65zM193.35 298.55h1.65v1.65h-1.65zM196.65 298.55h1.65v1.65h-1.65zM199.95 298.55h1.65v1.65h-1.65zM203.25 298.55h1.65v1.65h-1.65zM206.55 298.55h1.65v1.65h-1.65zM209.85 298.55h1.65v1.65h-1.65z" fill="#000" stroke="#000" stroke-width="0.3"/>
<rect x="191.50" y="233.30" width="20.80" height="65.50" fill="none" stroke="#000" stroke-width="1.05"/>
<line x1="231.90" y1="260.49" x2="231.90" y2="257.40" stroke="#000" stroke-width="1.0" />
<line x1="227.20" y1="257.40" x2="236.60" y2="257.40" stroke="#000" stroke-width="1.0" />
<rect x="221.80" y="260.49" width="20.70" height="38.31" fill="#fff" stroke="none"/>
<clipPath id="c7"><rect x="221.80" y="260.49" width="20.70" height="38.31"/></clipPath>
<path clip-path="url(#c7)" d="M220.80 256.32L243.50 233.62M220.80 259.68L243.50 236.98M220.80 263.04L243.50 240.34M220.80 266.40L243.50 243.70M220.80 269.76L243.50 247.06M220.80 273.12L243.50 250.42M220.80 276.48L243.50 253.78M220.80 279.84L243.50 257.14M220.80 283.20L243.50 260.50M220.80 286.56L243.50 263.86M220.80 289.92L243.50 267.22M220.80 293.28L243.50 270.58M220.80 296.64L243.50 273.94M220.80 300.00L243.50 277.30M220.80 303.36L243.50 280.66M220.80 306.72L243.50 284.02M220.80 310.08L243.50 287.38M220.80 313.44L243.50 290.74M220.80 316.80L243.50 294.10M220.80 320.16L243.50 297.46M220.80 323.52L243.50 300.82" fill="none" stroke="#000" stroke-width="1.1"/>
<rect x="221.80" y="260.49" width="20.70" height="38.31" fill="none" stroke="#000" stroke-width="1.05"/>
<text class="sf" x="230.70" y="241.06" font-size="8.8" text-anchor="middle" font-weight="bold" style="stroke-width:0">*</text>
<text class="sf" x="234.70" y="241.06" font-size="8.8" text-anchor="middle" font-weight="bold" style="stroke-width:0">*</text>
<text class="sf" font-size="7.5" font-weight="bold" text-anchor="middle" transform="translate(137.60 247.80) rotate(-90)" x="0" y="2.48" textLength="100.90" lengthAdjust="spacingAndGlyphs">Cells/Well (% of seeded cells)</text>
<text class="sf" x="173.00" y="306.00" font-size="6.9" text-anchor="end" font-weight="bold" transform="rotate(-27 173.00 306.00)" >Sh-Control</text>
<text class="sf" x="202.50" y="306.50" font-size="6.9" text-anchor="end" font-weight="bold" transform="rotate(-27 202.50 306.50)" >Sh-Sema3A</text>
<text class="sf" x="233.50" y="306.50" font-size="6.9" text-anchor="end" font-weight="bold" transform="rotate(-27 233.50 306.50)" >Sh-Sema6B</text>
<text class="ss" font-size="11.4" font-weight="bold" transform="translate(257.90 186.90) scale(1.0 1)" x="0" y="0">G</text>
<line x1="287.70" y1="199.70" x2="287.70" y2="298.70" stroke="#000" stroke-width="1.1" />
<text class="sf" x="285.10" y="300.41" font-size="6.5" text-anchor="end" font-weight="bold" >0</text>
<line x1="287.70" y1="278.60" x2="289.70" y2="278.60" stroke="#000" stroke-width="1.1" />
<text class="sf" x="285.10" y="280.81" font-size="6.5" text-anchor="end" font-weight="bold" >100</text>
<line x1="287.70" y1="259.00" x2="289.70" y2="259.00" stroke="#000" stroke-width="1.1" />
<text class="sf" x="285.10" y="261.21" font-size="6.5" text-anchor="end" font-weight="bold" >200</text>
<line x1="287.70" y1="239.40" x2="289.70" y2="239.40" stroke="#000" stroke-width="1.1" />
<text class="sf" x="285.10" y="241.61" font-size="6.5" text-anchor="end" font-weight="bold" >300</text>
<line x1="287.70" y1="219.80" x2="289.70" y2="219.80" stroke="#000" stroke-width="1.1" />
<text class="sf" x="285.10" y="222.01" font-size="6.5" text-anchor="end" font-weight="bold" >400</text>
<line x1="287.70" y1="200.20" x2="289.70" y2="200.20" stroke="#000" stroke-width="1.1" />
<text class="sf" x="285.10" y="202.41" font-size="6.5" text-anchor="end" font-weight="bold" >500</text>
<line x1="287.20" y1="298.20" x2="386.50" y2="298.20" stroke="#000" stroke-width="1.0" />
<text class="sf" x="287.70" y="306.00" font-size="6.4" text-anchor="middle" font-weight="bold" >0</text>
<line x1="303.00" y1="298.20" x2="303.00" y2="296.40" stroke="#000" stroke-width="0.9" />
<text class="sf" x="303.00" y="306.00" font-size="6.4" text-anchor="middle" font-weight="bold" >5</text>
<line x1="318.30" y1="298.20" x2="318.30" y2="296.40" stroke="#000" stroke-width="0.9" />
<text class="sf" x="318.30" y="306.00" font-size="6.4" text-anchor="middle" font-weight="bold" >10</text>
<line x1="333.60" y1="298.20" x2="333.60" y2="296.40" stroke="#000" stroke-width="0.9" />
<text class="sf" x="333.60" y="306.00" font-size="6.4" text-anchor="middle" font-weight="bold" >15</text>
<line x1="348.90" y1="298.20" x2="348.90" y2="296.40" stroke="#000" stroke-width="0.9" />
<text class="sf" x="348.90" y="306.00" font-size="6.4" text-anchor="middle" font-weight="bold" >20</text>
<line x1="364.20" y1="298.20" x2="364.20" y2="296.40" stroke="#000" stroke-width="0.9" />
<text class="sf" x="364.20" y="306.00" font-size="6.4" text-anchor="middle" font-weight="bold" >25</text>
<line x1="379.50" y1="298.20" x2="379.50" y2="296.40" stroke="#000" stroke-width="0.9" />
<text class="sf" x="379.50" y="306.00" font-size="6.4" text-anchor="middle" font-weight="bold" >30</text>
<text class="sf" x="336.80" y="319.40" font-size="8.4" text-anchor="middle" font-weight="bold" textLength="81.60" lengthAdjust="spacingAndGlyphs" >Days after implantation</text>
<text class="sf" font-size="8.4" font-weight="bold" text-anchor="middle" transform="translate(270.10 247.90) rotate(-90)" x="0" y="2.77" textLength="76.30" lengthAdjust="spacingAndGlyphs">Tumor Volume (mm<tspan dy="-3" font-size="5.4">3</tspan><tspan dy="3">)</tspan></text>
<line x1="303.90" y1="208.20" x2="310.30" y2="208.20" stroke="#000" stroke-width="0.9" />
<circle cx="307.0" cy="208.2" r="1.5" fill="#999" stroke="#000" stroke-width="1.0"/>
<text class="sf" x="314.70" y="210.40" font-size="6.6" text-anchor="start" font-weight="bold" textLength="29.00" lengthAdjust="spacingAndGlyphs" >Sh-Control</text>
<line x1="303.90" y1="215.10" x2="310.30" y2="215.10" stroke="#000" stroke-width="0.9" />
<circle cx="307.0" cy="215.1" r="1.4" fill="#000"/>
<text class="sf" x="314.70" y="217.30" font-size="6.6" text-anchor="start" font-weight="bold" textLength="30.60" lengthAdjust="spacingAndGlyphs" >Sh-Sema6B</text>
<text class="sf" x="323.40" y="238.50" font-size="6.4" text-anchor="middle" font-weight="bold" textLength="11.40" lengthAdjust="spacingAndGlyphs" >N=5</text>
<polyline fill="none" stroke="#000" stroke-width="1.15" points="287.70,298.20 339.72,285.46 355.02,274.88 376.44,227.25"/>
<line x1="339.72" y1="282.30" x2="339.72" y2="288.10" stroke="#000" stroke-width="0.9" />
<line x1="337.62" y1="282.30" x2="341.82" y2="282.30" stroke="#000" stroke-width="0.9" />
<line x1="337.62" y1="288.10" x2="341.82" y2="288.10" stroke="#000" stroke-width="0.9" />
<line x1="355.02" y1="268.30" x2="355.02" y2="280.60" stroke="#000" stroke-width="0.9" />
<line x1="352.92" y1="268.30" x2="357.12" y2="268.30" stroke="#000" stroke-width="0.9" />
<line x1="352.92" y1="280.60" x2="357.12" y2="280.60" stroke="#000" stroke-width="0.9" />
<line x1="376.44" y1="211.10" x2="376.44" y2="242.50" stroke="#000" stroke-width="0.9" />
<line x1="374.34" y1="211.10" x2="378.54" y2="211.10" stroke="#000" stroke-width="0.9" />
<line x1="374.34" y1="242.50" x2="378.54" y2="242.50" stroke="#000" stroke-width="0.9" />
<circle cx="287.70" cy="298.20" r="1.4" fill="#ddd" stroke="#000" stroke-width="0.9"/>
<circle cx="339.72" cy="285.46" r="1.4" fill="#ddd" stroke="#000" stroke-width="0.9"/>
<circle cx="355.02" cy="274.88" r="1.4" fill="#ddd" stroke="#000" stroke-width="0.9"/>
<circle cx="376.44" cy="227.25" r="1.4" fill="#ddd" stroke="#000" stroke-width="0.9"/>
<polyline fill="none" stroke="#000" stroke-width="1.0" points="287.70,298.20 339.72,298.20 355.02,297.61 376.44,294.28"/>
<circle cx="287.70" cy="298.20" r="1.4" fill="#000"/>
<circle cx="339.72" cy="298.20" r="1.4" fill="#000"/>
<circle cx="355.02" cy="297.61" r="1.4" fill="#000"/>
<circle cx="376.44" cy="294.28" r="1.4" fill="#000"/>
<text class="ss" font-size="11.4" font-weight="bold" transform="translate(406.40 186.80) scale(0.95 1)" x="0" y="0">H</text>
<line x1="442.00" y1="200.30" x2="442.00" y2="310.70" stroke="#000" stroke-width="1.1" />
<text class="sf" x="439.60" y="312.68" font-size="7.3" text-anchor="end" font-weight="bold" >0</text>
<line x1="442.00" y1="290.38" x2="444.40" y2="290.38" stroke="#000" stroke-width="1.1" />
<text class="sf" x="439.60" y="292.86" font-size="7.3" text-anchor="end" font-weight="bold" >100</text>
<line x1="442.00" y1="270.56" x2="444.40" y2="270.56" stroke="#000" stroke-width="1.1" />
<text class="sf" x="439.60" y="273.04" font-size="7.3" text-anchor="end" font-weight="bold" >200</text>
<line x1="442.00" y1="250.74" x2="444.40" y2="250.74" stroke="#000" stroke-width="1.1" />
<text class="sf" x="439.60" y="253.22" font-size="7.3" text-anchor="end" font-weight="bold" >300</text>
<line x1="442.00" y1="230.92" x2="444.40" y2="230.92" stroke="#000" stroke-width="1.1" />
<text class="sf" x="439.60" y="233.40" font-size="7.3" text-anchor="end" font-weight="bold" >400</text>
<line x1="442.00" y1="211.10" x2="444.40" y2="211.10" stroke="#000" stroke-width="1.1" />
<text class="sf" x="439.60" y="213.58" font-size="7.3" text-anchor="end" font-weight="bold" >500</text>
<line x1="441.50" y1="310.20" x2="516.40" y2="310.20" stroke="#000" stroke-width="1.1" />
<line x1="459.90" y1="231.51" x2="459.90" y2="210.90" stroke="#000" stroke-width="1.0" />
<line x1="456.40" y1="210.90" x2="463.40" y2="210.90" stroke="#000" stroke-width="1.0" />
<rect x="447.70" y="231.51" width="24.90" height="78.69" fill="#fff" stroke="none"/>
<rect x="447.70" y="231.51" width="24.90" height="78.69" fill="none" stroke="#000" stroke-width="1.05"/>
<line x1="496.30" y1="307.43" x2="496.30" y2="306.40" stroke="#000" stroke-width="1.0" />
<line x1="493.30" y1="306.40" x2="499.30" y2="306.40" stroke="#000" stroke-width="1.0" />
<rect x="484.40" y="307.43" width="24.60" height="2.77" fill="#fff" stroke="none"/>
<clipPath id="c8"><rect x="484.40" y="307.43" width="24.60" height="2.77"/></clipPath>
<path clip-path="url(#c8)" d="M483.40 302.84L510.00 276.24M483.40 306.20L510.00 279.60M483.40 309.56L510.00 282.96M483.40 312.92L510.00 286.32M483.40 316.28L510.00 289.68M483.40 319.64L510.00 293.04M483.40 323.00L510.00 296.40M483.40 326.36L510.00 299.76M483.40 329.72L510.00 303.12M483.40 333.08L510.00 306.48M483.40 336.44L510.00 309.84" fill="none" stroke="#000" stroke-width="1.1"/>
<rect x="484.40" y="307.43" width="24.60" height="2.77" fill="none" stroke="#000" stroke-width="1.05"/>
<text class="sf" x="494.40" y="304.95" font-size="9.0" text-anchor="middle" font-weight="bold" style="stroke-width:0">*</text>
<text class="sf" x="498.80" y="304.95" font-size="9.0" text-anchor="middle" font-weight="bold" style="stroke-width:0">*</text>
<text class="sf" font-size="9.0" font-weight="bold" text-anchor="middle" transform="translate(419.70 254.20) rotate(-90)" x="0" y="2.97" textLength="75.50" lengthAdjust="spacingAndGlyphs">Tumor Weight (mg)</text>
<text class="sf" x="460.10" y="320.70" font-size="7.2" text-anchor="middle" font-weight="bold" textLength="33.60" lengthAdjust="spacingAndGlyphs" >Sh-Control</text>
<text class="sf" x="496.60" y="320.70" font-size="7.2" text-anchor="middle" font-weight="bold" textLength="35.60" lengthAdjust="spacingAndGlyphs" >Sh-Sema6B</text>
</g>
</svg>
</body></html>
